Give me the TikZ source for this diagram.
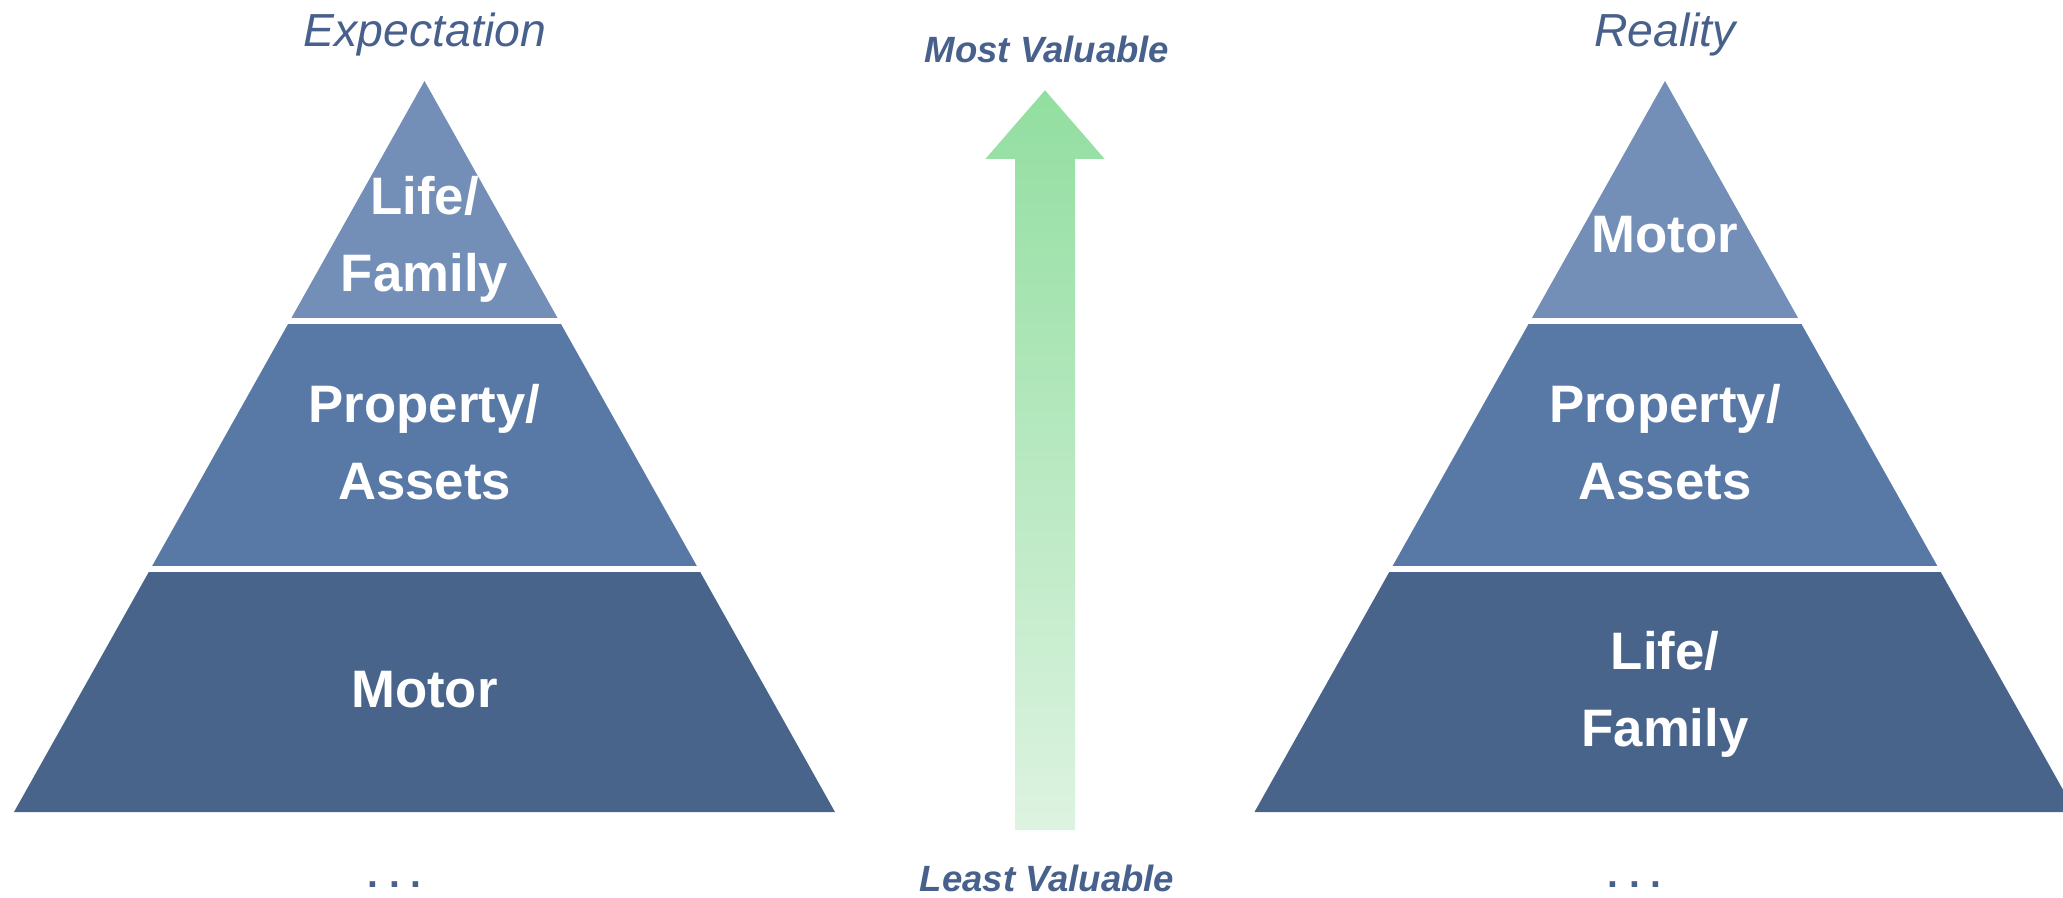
\documentclass[tikz,border=0pt]{standalone}
\usepackage{fontspec}
\setmainfont{Liberation Sans}
\definecolor{tierTop}{RGB}{116, 143, 183}
\definecolor{tierMid}{RGB}{88, 120, 166}
\definecolor{tierLow}{RGB}{73, 100, 139}
\definecolor{labelBlue}{RGB}{72, 97, 140}
\definecolor{arrowGreen}{RGB}{146, 222, 160}
\definecolor{arrowPale}{RGB}{221, 243, 225}
\usetikzlibrary{calc}

\begin{document}
\begin{tikzpicture}[
    tierlabel/.style={text=white, align=center,
                      font=\fontsize{15}{21.9}\selectfont\bfseries},
    headline/.style={text=labelBlue, anchor=base,
                     font=\fontsize{13.2}{16}\selectfont\itshape},
    rank/.style={text=labelBlue, anchor=base,
                 font=\fontsize{10.4}{12}\selectfont\bfseries\itshape},
    moredots/.style={text=labelBlue, anchor=base,
                     font=\fontsize{11.1}{13}\selectfont\bfseries},
    gap/.style={draw=white, line width=0.06cm},
  ]
    \useasboundingbox (0,0) rectangle (20.63,8.97);

    % the two pyramids, three tiers each
    \foreach \cx in {4.245,16.65} {
      \coordinate (apex) at (\cx,8.16);
      \coordinate (bl) at (\cx-4.105,0.85);
      \coordinate (br) at (\cx+4.105,0.85);
      \fill[tierTop] (apex) -- ($(apex)!0.3283!(bl)$) -- ($(apex)!0.3283!(br)$) -- cycle;
      \fill[tierMid] ($(apex)!0.3283!(bl)$) -- ($(apex)!0.6676!(bl)$)
                  -- ($(apex)!0.6676!(br)$) -- ($(apex)!0.3283!(br)$) -- cycle;
      \fill[tierLow] ($(apex)!0.6676!(bl)$) -- (bl) -- (br) -- ($(apex)!0.6676!(br)$) -- cycle;
      \draw[gap] ($(apex)!0.3283!(bl)+(-0.05,0)$) -- ($(apex)!0.3283!(br)+(0.05,0)$);
      \draw[gap] ($(apex)!0.6676!(bl)+(-0.05,0)$) -- ($(apex)!0.6676!(br)+(0.05,0)$);
    }

    % value arrow in the middle
    \shade[top color=arrowGreen, bottom color=arrowPale]
      (10.15,0.67) -- (10.15,7.38) -- (9.853,7.38) -- (10.45,8.067)
      -- (11.047,7.38) -- (10.75,7.38) -- (10.75,0.67) -- cycle;

    \node[headline] (expect) at (4.25,8.50) {Expectation};
    \node[headline] (real) at (16.65,8.50) {Reality};
    \node[rank] (most) at (10.47,8.347) {Most Valuable};
    \node[rank] (least) at (10.47,0.053) {Least Valuable};

    \node[tierlabel] (eTop) at (4.245,6.575) {Life/\\Family};
    \node[tierlabel] (eMid) at (4.245,4.547) {Property/\\Assets};
    \node[tierlabel] (eLow) at (4.245,2.077) {Motor};

    \node[tierlabel] (rTop) at (16.65,6.627) {Motor};
    \node[tierlabel] (rMid) at (16.65,4.547) {Property/\\Assets};
    \node[tierlabel] (rLow) at (16.65,2.025) {Life/\\Family};

    \node[moredots] (eMore) at (3.945,0.093) {.\kern0.27em.\kern0.27em.};
    \node[moredots] (rMore) at (16.345,0.093) {.\kern0.27em.\kern0.27em.};
  \end{tikzpicture}
\end{document}
